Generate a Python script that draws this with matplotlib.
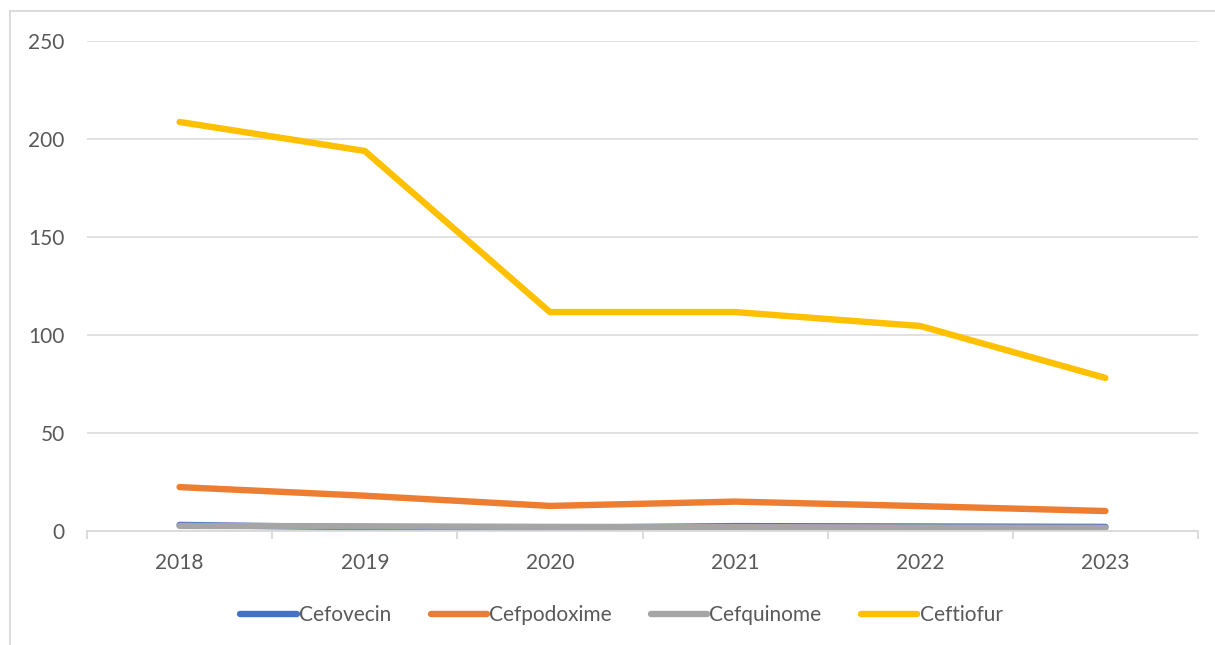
import matplotlib
matplotlib.use("Agg")
import matplotlib.pyplot as plt
from matplotlib.lines import Line2D

years = ["2018", "2019", "2020", "2021", "2022", "2023"]
cefovecin = [3.1, 1.9, 1.6, 2.5, 2.3, 2.1]
cefpodoxime = [22.4, 18.0, 12.8, 15.0, 12.7, 10.2]
cefquinome = [2.6, 2.4, 2.1, 2.0, 1.8, 1.6]
ceftiofur = [208.7, 193.9, 111.7, 111.7, 104.6, 78.1]

series_names = ["Cefovecin", "Cefpodoxime", "Cefquinome", "Ceftiofur"]
series_colors = ["#4472C4", "#ED7D31", "#A5A5A5", "#FFC000"]
y_ticks = [0, 50, 100, 150, 200, 250]

plt.rcParams["font.family"] = ["Lato", "DejaVu Sans"]
text_color = "#595959"
grid_color = "#D9D9D9"

fig = plt.figure(figsize=(12.15, 6.45), dpi=100)
ax = fig.add_axes([87 / 1215, 1 - 531 / 645, (1198 - 87) / 1215, (531 - 41) / 645])

x = list(range(len(years)))
for vals, name, col in zip([cefovecin, cefpodoxime, cefquinome, ceftiofur],
                           series_names, series_colors):
    ax.plot(x, vals, color=col, lw=4.6, solid_capstyle="round",
            solid_joinstyle="round", label=name)

ax.set_xlim(-0.5, len(years) - 0.5)
ax.set_ylim(0, 250)
ax.set_yticks(y_ticks)
ax.set_yticklabels([str(v) for v in y_ticks])
ax.set_xticks(x)
ax.set_xticklabels(years)
ax.set_xticks([i - 0.5 for i in range(len(years) + 1)], minor=True)

ax.grid(axis="y", color=grid_color, lw=1.1)
ax.set_axisbelow(True)
for side in ["left", "right", "top"]:
    ax.spines[side].set_visible(False)
ax.spines["bottom"].set_color(grid_color)
ax.spines["bottom"].set_linewidth(1.3)

ax.tick_params(axis="x", which="major", length=0, pad=16, labelsize=15,
               labelcolor=text_color)
ax.tick_params(axis="x", which="minor", length=5.5, width=1.3, color=grid_color,
               direction="out")
ax.tick_params(axis="y", length=0, pad=16, labelsize=15, labelcolor=text_color)

leg = fig.legend(loc="center", bbox_to_anchor=(0.5115, 1 - 615 / 645), ncol=4,
                 frameon=False, fontsize=15, handlelength=2.7,
                 handletextpad=0.1, columnspacing=1.9)
for t in leg.get_texts():
    t.set_color(text_color)

# chart area border (left and top edges)
fig.add_artist(Line2D([10 / 1215, 10 / 1215], [0, 1 - 11 / 645],
                      transform=fig.transFigure, color=grid_color, lw=1.3))
fig.add_artist(Line2D([10 / 1215, 1], [1 - 11 / 645, 1 - 11 / 645],
                      transform=fig.transFigure, color=grid_color, lw=1.3))

fig.savefig("out.png", dpi=100, facecolor="white")
